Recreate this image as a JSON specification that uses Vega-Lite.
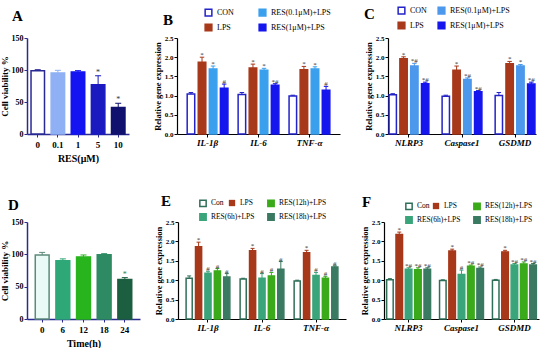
{
  "$schema": "https://vega.github.io/schema/vega-lite/v6.json",
  "background": "white",
  "padding": {"left": 0, "top": 6, "right": 2, "bottom": 0},
  "config": {
    "font": "Liberation Serif",
    "view": {"stroke": null},
    "axis": {"labelFont": "Liberation Serif", "titleFont": "Liberation Serif", "labelFontWeight": "bold", "titleFontWeight": "bold", "grid": false, "labelColor": "#000", "titleColor": "#000", "domainColor": "#000", "tickColor": "#000", "domainWidth": 1.2, "tickSize": 3, "labelPadding": 1, "titlePadding": 2},
    "legend": {"labelFont": "Liberation Serif", "labelFontSize": 8, "symbolType": "square", "symbolSize": 45, "symbolStrokeWidth": 1.5, "labelLimit": 200, "rowPadding": 3, "labelOffset": 4},
    "title": {"font": "Liberation Serif", "fontSize": 15, "fontWeight": "bold", "anchor": "start", "frame": "group", "color": "#000"}
  },
  "datasets": {
    "A": [
      {"dose": "0", "v": 99, "hi": 100.5, "s": ""},
      {"dose": "0.1", "v": 95.5, "hi": 99.5, "s": ""},
      {"dose": "1", "v": 97, "hi": 99, "s": ""},
      {"dose": "5", "v": 77, "hi": 91, "s": "*"},
      {"dose": "10", "v": 41.5, "hi": 48, "s": "*"}
    ],
    "D": [
      {"t": "0", "v": 99, "hi": 103, "s": ""},
      {"t": "6", "v": 90, "hi": 93, "s": ""},
      {"t": "12", "v": 96, "hi": 99, "s": ""},
      {"t": "18", "v": 99.5, "hi": 101, "s": ""},
      {"t": "24", "v": 61, "hi": 64, "s": "*"}
    ],
    "B": [
      {"gene": "IL-1β", "g": "CON", "v": 1.04, "hi": 1.08, "s": ""},
      {"gene": "IL-1β", "g": "LPS", "v": 1.87, "hi": 2.0, "s": "*"},
      {"gene": "IL-1β", "g": "RES(0.1μM)+LPS", "v": 1.69, "hi": 1.77, "s": "*"},
      {"gene": "IL-1β", "g": "RES(1μM)+LPS", "v": 1.19, "hi": 1.3, "s": "#"},
      {"gene": "IL-6", "g": "CON", "v": 1.03, "hi": 1.08, "s": ""},
      {"gene": "IL-6", "g": "LPS", "v": 1.72, "hi": 1.82, "s": "*"},
      {"gene": "IL-6", "g": "RES(0.1μM)+LPS", "v": 1.66, "hi": 1.71, "s": "*"},
      {"gene": "IL-6", "g": "RES(1μM)+LPS", "v": 1.27, "hi": 1.31, "s": "*#"},
      {"gene": "TNF-α", "g": "CON", "v": 0.99, "hi": 1.01, "s": ""},
      {"gene": "TNF-α", "g": "LPS", "v": 1.67, "hi": 1.76, "s": "*"},
      {"gene": "TNF-α", "g": "RES(0.1μM)+LPS", "v": 1.69, "hi": 1.75, "s": "*"},
      {"gene": "TNF-α", "g": "RES(1μM)+LPS", "v": 1.14, "hi": 1.24, "s": "#"}
    ],
    "C": [
      {"gene": "NLRP3", "g": "CON", "v": 1.02, "hi": 1.05, "s": ""},
      {"gene": "NLRP3", "g": "LPS", "v": 1.96, "hi": 2.01, "s": "*"},
      {"gene": "NLRP3", "g": "RES(0.1μM)+LPS", "v": 1.77, "hi": 1.84, "s": "*#"},
      {"gene": "NLRP3", "g": "RES(1μM)+LPS", "v": 1.31, "hi": 1.35, "s": "*#"},
      {"gene": "Caspase1", "g": "CON", "v": 0.98, "hi": 1.01, "s": ""},
      {"gene": "Caspase1", "g": "LPS", "v": 1.66, "hi": 1.77, "s": "*"},
      {"gene": "Caspase1", "g": "RES(0.1μM)+LPS", "v": 1.42, "hi": 1.46, "s": "*#"},
      {"gene": "Caspase1", "g": "RES(1μM)+LPS", "v": 1.1, "hi": 1.13, "s": "*#"},
      {"gene": "GSDMD", "g": "CON", "v": 1.0, "hi": 1.08, "s": ""},
      {"gene": "GSDMD", "g": "LPS", "v": 1.83, "hi": 1.89, "s": "*"},
      {"gene": "GSDMD", "g": "RES(0.1μM)+LPS", "v": 1.77, "hi": 1.81, "s": "*"},
      {"gene": "GSDMD", "g": "RES(1μM)+LPS", "v": 1.3, "hi": 1.35, "s": "*#"}
    ],
    "E": [
      {"gene": "IL-1β", "g": "Con", "v": 1.05, "hi": 1.11, "s": ""},
      {"gene": "IL-1β", "g": "LPS", "v": 1.86, "hi": 1.98, "s": "*"},
      {"gene": "IL-1β", "g": "RES(6h)+LPS", "v": 1.18, "hi": 1.23, "s": "#"},
      {"gene": "IL-1β", "g": "RES(12h)+LPS", "v": 1.24, "hi": 1.3, "s": "#"},
      {"gene": "IL-1β", "g": "RES(18h)+LPS", "v": 1.08, "hi": 1.17, "s": "#"},
      {"gene": "IL-6", "g": "Con", "v": 1.03, "hi": 1.05, "s": ""},
      {"gene": "IL-6", "g": "LPS", "v": 1.76, "hi": 1.82, "s": "*"},
      {"gene": "IL-6", "g": "RES(6h)+LPS", "v": 1.05, "hi": 1.17, "s": "#"},
      {"gene": "IL-6", "g": "RES(12h)+LPS", "v": 1.11, "hi": 1.2, "s": "#"},
      {"gene": "IL-6", "g": "RES(18h)+LPS", "v": 1.28, "hi": 1.48, "s": "#"},
      {"gene": "TNF-α", "g": "Con", "v": 0.98, "hi": 1.0, "s": ""},
      {"gene": "TNF-α", "g": "LPS", "v": 1.71, "hi": 1.77, "s": "*"},
      {"gene": "TNF-α", "g": "RES(6h)+LPS", "v": 1.12, "hi": 1.2, "s": "#"},
      {"gene": "TNF-α", "g": "RES(12h)+LPS", "v": 1.05, "hi": 1.1, "s": "#"},
      {"gene": "TNF-α", "g": "RES(18h)+LPS", "v": 1.34, "hi": 1.37, "s": "#"}
    ],
    "F": [
      {"gene": "NLRP3", "g": "Con", "v": 1.01, "hi": 1.04, "s": ""},
      {"gene": "NLRP3", "g": "LPS", "v": 2.18, "hi": 2.24, "s": "*"},
      {"gene": "NLRP3", "g": "RES(6h)+LPS", "v": 1.28, "hi": 1.32, "s": "*#"},
      {"gene": "NLRP3", "g": "RES(12h)+LPS", "v": 1.27, "hi": 1.32, "s": "*#"},
      {"gene": "NLRP3", "g": "RES(18h)+LPS", "v": 1.28, "hi": 1.32, "s": "*#"},
      {"gene": "Caspase1", "g": "Con", "v": 0.99, "hi": 1.01, "s": ""},
      {"gene": "Caspase1", "g": "LPS", "v": 1.75, "hi": 1.8, "s": "*"},
      {"gene": "Caspase1", "g": "RES(6h)+LPS", "v": 1.15, "hi": 1.26, "s": "#"},
      {"gene": "Caspase1", "g": "RES(12h)+LPS", "v": 1.36, "hi": 1.39, "s": "*#"},
      {"gene": "Caspase1", "g": "RES(18h)+LPS", "v": 1.3, "hi": 1.34, "s": "*#"},
      {"gene": "GSDMD", "g": "Con", "v": 1.0, "hi": 1.02, "s": ""},
      {"gene": "GSDMD", "g": "LPS", "v": 1.73, "hi": 1.77, "s": "*"},
      {"gene": "GSDMD", "g": "RES(6h)+LPS", "v": 1.39, "hi": 1.43, "s": "*#"},
      {"gene": "GSDMD", "g": "RES(12h)+LPS", "v": 1.42, "hi": 1.47, "s": "*#"},
      {"gene": "GSDMD", "g": "RES(18h)+LPS", "v": 1.39, "hi": 1.43, "s": "*#"}
    ]
  },
  "spacing": 31,
  "resolve": {"scale": {"x": "independent", "y": "independent", "fill": "independent", "stroke": "independent", "color": "independent", "xOffset": "independent"}, "legend": {"fill": "independent", "stroke": "independent", "color": "independent"}},
  "vconcat": [
    {
      "spacing": 24,
      "resolve": {"scale": {"x": "independent", "y": "independent", "fill": "independent", "stroke": "independent", "color": "independent", "xOffset": "independent"}, "legend": {"fill": "independent", "stroke": "independent", "color": "independent"}},
      "hconcat": [
        {
          "width": 102, "height": 96,
          "title": {"text": "A", "dx": -15, "offset": 10},
          "data": {"name": "A"},
          "encoding": {
            "x": {"field": "dose", "type": "nominal", "sort": ["0", "0.1", "1", "5", "10"], "title": "RES(μM)", "scale": {"paddingInner": 0.33, "paddingOuter": 0.2}, "axis": {"labelAngle": 0, "labelFontSize": 9, "titleFontSize": 10, "domainColor": "#2b2b8f", "tickColor": "#2b2b8f", "domainWidth": 1.5, "labelPadding": 3, "titlePadding": 4}},
            "y": {"field": "v", "type": "quantitative", "scale": {"domain": [0, 150]}, "axis": {"values": [0, 50, 100, 150], "title": "Cell viability %", "titleFontSize": 9, "labelFontSize": 8, "domainColor": "#2b2b8f", "tickColor": "#2b2b8f", "domainWidth": 1.5}}
          },
          "layer": [
            {"mark": {"type": "bar", "strokeWidth": 1.5},
             "encoding": {
               "fill": {"field": "dose", "type": "nominal", "scale": {"domain": ["0", "0.1", "1", "5", "10"], "range": ["#ffffff", "#8fb0f5", "#1414f2", "#1a1ac0", "#10106e"]}, "legend": null},
               "stroke": {"field": "dose", "type": "nominal", "scale": {"domain": ["0", "0.1", "1", "5", "10"], "range": ["#2a2a96", "#8fb0f5", "#1414f2", "#1a1ac0", "#10106e"]}, "legend": null}}},
            {"mark": {"type": "rule", "strokeWidth": 1},
             "encoding": {"y": {"field": "v", "type": "quantitative"}, "y2": {"field": "hi"}, "stroke": {"field": "dose", "type": "nominal", "legend": null}}},
            {"mark": {"type": "point", "shape": "M-1,0L1,0", "filled": false, "size": 36, "strokeWidth": 1, "opacity": 1},
             "encoding": {"y": {"field": "hi", "type": "quantitative"}, "stroke": {"field": "dose", "type": "nominal", "legend": null}}},
            {"mark": {"type": "text", "fontSize": 8, "baseline": "bottom", "dy": 1, "color": "#333"},
             "encoding": {"y": {"field": "hi", "type": "quantitative"}, "text": {"field": "s"}}}
          ]
        },
        {
          "width": 163, "height": 96,
          "title": {"text": "B", "dx": -14, "offset": -20},
          "data": {"name": "B"},
          "encoding": {
            "x": {"field": "gene", "type": "nominal", "sort": ["IL-1β", "IL-6", "TNF-α"], "title": null, "scale": {"paddingInner": 0.2, "paddingOuter": 0.2}, "axis": {"labelAngle": 0, "labelFontSize": 9, "labelFontStyle": "italic"}},
            "xOffset": {"field": "g", "type": "nominal", "sort": ["CON", "LPS", "RES(0.1μM)+LPS", "RES(1μM)+LPS"], "scale": {"paddingInner": 0.32}},
            "y": {"field": "v", "type": "quantitative", "scale": {"domain": [0, 2.5]}, "axis": {"values": [0, 0.5, 1, 1.5, 2, 2.5], "format": ".1f", "title": "Relative gene expression", "titleFontSize": 8.5, "labelFontSize": 7}}
          },
          "layer": [
            {"mark": {"type": "bar", "strokeWidth": 1.5},
             "encoding": {
               "fill": {"field": "g", "type": "nominal", "title": null, "scale": {"domain": ["CON", "RES(0.1μM)+LPS", "LPS", "RES(1μM)+LPS"], "range": ["#ffffff", "#3aa0ee", "#a8381a", "#1515ee"]}, "legend": {"orient": "none", "legendX": 27, "legendY": -30, "columns": 2, "columnPadding": 22, "direction": "horizontal", "rowPadding": 2}},
               "stroke": {"field": "g", "type": "nominal", "title": null, "scale": {"domain": ["CON", "RES(0.1μM)+LPS", "LPS", "RES(1μM)+LPS"], "range": ["#2323c8", "#3aa0ee", "#a8381a", "#1515ee"]}}}},
            {"mark": {"type": "rule", "strokeWidth": 1},
             "encoding": {"y": {"field": "v", "type": "quantitative"}, "y2": {"field": "hi"}, "stroke": {"field": "g", "type": "nominal", "title": null}}},
            {"mark": {"type": "point", "shape": "M-1,0L1,0", "filled": false, "size": 20, "strokeWidth": 1, "opacity": 1},
             "encoding": {"y": {"field": "hi", "type": "quantitative"}, "stroke": {"field": "g", "type": "nominal", "title": null}}},
            {"mark": {"type": "text", "fontSize": 7, "baseline": "bottom", "dy": 1, "color": "#333"},
             "encoding": {"y": {"field": "hi", "type": "quantitative"}, "text": {"field": "s"}}}
          ]
        },
        {
          "width": 148, "height": 96,
          "title": {"text": "C", "dx": -24, "offset": -16},
          "data": {"name": "C"},
          "encoding": {
            "x": {"field": "gene", "type": "nominal", "sort": ["NLRP3", "Caspase1", "GSDMD"], "title": null, "scale": {"paddingInner": 0.25, "paddingOuter": 0.02}, "axis": {"labelAngle": 0, "labelFontSize": 9, "labelFontStyle": "italic"}},
            "xOffset": {"field": "g", "type": "nominal", "sort": ["CON", "LPS", "RES(0.1μM)+LPS", "RES(1μM)+LPS"], "scale": {"paddingInner": 0.32}},
            "y": {"field": "v", "type": "quantitative", "scale": {"domain": [0, 2.5]}, "axis": {"values": [0, 0.5, 1, 1.5, 2, 2.5], "format": ".1f", "title": "Relative gene expression", "titleFontSize": 8.5, "labelFontSize": 7}}
          },
          "layer": [
            {"mark": {"type": "bar", "strokeWidth": 1.5},
             "encoding": {
               "fill": {"field": "g", "type": "nominal", "title": null, "scale": {"domain": ["CON", "RES(0.1μM)+LPS", "LPS", "RES(1μM)+LPS"], "range": ["#ffffff", "#4b98ec", "#a8381a", "#1515ee"]}, "legend": {"orient": "none", "legendX": 9, "legendY": -32, "columns": 2, "columnPadding": 8, "direction": "horizontal", "rowPadding": 2}},
               "stroke": {"field": "g", "type": "nominal", "title": null, "scale": {"domain": ["CON", "RES(0.1μM)+LPS", "LPS", "RES(1μM)+LPS"], "range": ["#2323c8", "#4b98ec", "#a8381a", "#1515ee"]}}}},
            {"mark": {"type": "rule", "strokeWidth": 1},
             "encoding": {"y": {"field": "v", "type": "quantitative"}, "y2": {"field": "hi"}, "stroke": {"field": "g", "type": "nominal", "title": null}}},
            {"mark": {"type": "point", "shape": "M-1,0L1,0", "filled": false, "size": 20, "strokeWidth": 1, "opacity": 1},
             "encoding": {"y": {"field": "hi", "type": "quantitative"}, "stroke": {"field": "g", "type": "nominal", "title": null}}},
            {"mark": {"type": "text", "fontSize": 7, "baseline": "bottom", "dy": 1, "color": "#333"},
             "encoding": {"y": {"field": "hi", "type": "quantitative"}, "text": {"field": "s"}}}
          ]
        }
      ]
    },
    {
      "spacing": 14,
      "resolve": {"scale": {"x": "independent", "y": "independent", "fill": "independent", "stroke": "independent", "color": "independent", "xOffset": "independent"}, "legend": {"fill": "independent", "stroke": "independent", "color": "independent"}},
      "hconcat": [
        {
          "width": 113, "height": 97,
          "title": {"text": "D", "dx": -19, "offset": 5},
          "data": {"name": "D"},
          "encoding": {
            "x": {"field": "t", "type": "nominal", "sort": ["0", "6", "12", "18", "24"], "title": "Time(h)", "scale": {"paddingInner": 0.33, "paddingOuter": 0.4}, "axis": {"labelAngle": 0, "labelFontSize": 9, "titleFontSize": 10, "domainColor": "#2b2b8f", "tickColor": "#2b2b8f", "domainWidth": 1.5, "labelPadding": 3, "titlePadding": 4}},
            "y": {"field": "v", "type": "quantitative", "scale": {"domain": [0, 150]}, "axis": {"values": [0, 50, 100, 150], "title": "Cell viability %", "titleFontSize": 9, "labelFontSize": 8, "domainColor": "#2b2b8f", "tickColor": "#2b2b8f", "domainWidth": 1.5}}
          },
          "layer": [
            {"mark": {"type": "bar", "strokeWidth": 1.5},
             "encoding": {
               "fill": {"field": "t", "type": "nominal", "scale": {"domain": ["0", "6", "12", "18", "24"], "range": ["#eafaf6", "#2fa878", "#28b41c", "#2e8a62", "#1b5e40"]}, "legend": null},
               "stroke": {"field": "t", "type": "nominal", "scale": {"domain": ["0", "6", "12", "18", "24"], "range": ["#5d8a7c", "#2fa878", "#28b41c", "#2e8a62", "#1b5e40"]}, "legend": null}}},
            {"mark": {"type": "rule", "strokeWidth": 1},
             "encoding": {"y": {"field": "v", "type": "quantitative"}, "y2": {"field": "hi"}, "stroke": {"field": "t", "type": "nominal", "legend": null}}},
            {"mark": {"type": "point", "shape": "M-1,0L1,0", "filled": false, "size": 36, "strokeWidth": 1, "opacity": 1},
             "encoding": {"y": {"field": "hi", "type": "quantitative"}, "stroke": {"field": "t", "type": "nominal", "legend": null}}},
            {"mark": {"type": "text", "fontSize": 8, "baseline": "bottom", "dy": 1, "color": "#1b8a60"},
             "encoding": {"y": {"field": "hi", "type": "quantitative"}, "text": {"field": "s"}}}
          ]
        },
        {
          "width": 168, "height": 97,
          "title": {"text": "E", "dx": -17, "offset": -10},
          "data": {"name": "E"},
          "encoding": {
            "x": {"field": "gene", "type": "nominal", "sort": ["IL-1β", "IL-6", "TNF-α"], "title": null, "scale": {"paddingInner": 0.19, "paddingOuter": 0.15}, "axis": {"labelAngle": 0, "labelFontSize": 9, "labelFontStyle": "italic"}},
            "xOffset": {"field": "g", "type": "nominal", "sort": ["Con", "LPS", "RES(6h)+LPS", "RES(12h)+LPS", "RES(18h)+LPS"], "scale": {"paddingInner": 0.35}},
            "y": {"field": "v", "type": "quantitative", "scale": {"domain": [0, 2.5]}, "axis": {"values": [0, 0.5, 1, 1.5, 2, 2.5], "format": ".1f", "title": "Relative gene expression", "titleFontSize": 8.5, "labelFontSize": 7}}
          },
          "layer": [
            {"mark": {"type": "bar", "strokeWidth": 1.5},
             "encoding": {
               "fill": {"field": "g", "type": "nominal", "title": null, "scale": {"domain": ["Con", "LPS", "RES(6h)+LPS", "RES(12h)+LPS", "RES(18h)+LPS"], "range": ["#ffffff", "#a8381a", "#3aa57a", "#3aaa1a", "#3a7a62"]}, "legend": {"orient": "none", "legendX": 21, "legendY": -23, "columns": 2, "columnPadding": 9, "direction": "horizontal", "rowPadding": 0, "labelFontSize": 7.5, "symbolSize": 40, "values": ["Con", "RES(12h)+LPS", "RES(6h)+LPS", "RES(18h)+LPS"]}},
               "stroke": {"field": "g", "type": "nominal", "title": null, "scale": {"domain": ["Con", "LPS", "RES(6h)+LPS", "RES(12h)+LPS", "RES(18h)+LPS"], "range": ["#2f6f58", "#a8381a", "#3aa57a", "#3aaa1a", "#3a7a62"]}, "legend": {"orient": "none", "legendX": 21, "legendY": -23, "columns": 2, "columnPadding": 9, "direction": "horizontal", "rowPadding": 0, "labelFontSize": 7.5, "symbolSize": 40, "values": ["Con", "RES(12h)+LPS", "RES(6h)+LPS", "RES(18h)+LPS"]}}}},
            {"transform": [{"filter": "datum.g === 'LPS'"}],
             "mark": {"type": "bar"},
             "encoding": {"y": {"field": "v", "type": "quantitative"}, "color": {"field": "g", "type": "nominal", "title": null, "scale": {"domain": ["LPS"], "range": ["#a8381a"]}, "legend": {"orient": "none", "legendX": 50, "legendY": -23, "labelFontSize": 7.5, "symbolSize": 40}}}},
            {"mark": {"type": "rule", "strokeWidth": 1},
             "encoding": {"y": {"field": "v", "type": "quantitative"}, "y2": {"field": "hi"}, "stroke": {"field": "g", "type": "nominal", "title": null}}},
            {"mark": {"type": "point", "shape": "M-1,0L1,0", "filled": false, "size": 16, "strokeWidth": 1, "opacity": 1},
             "encoding": {"y": {"field": "hi", "type": "quantitative"}, "stroke": {"field": "g", "type": "nominal", "title": null}}},
            {"mark": {"type": "text", "fontSize": 7, "baseline": "bottom", "dy": 1, "color": "#333"},
             "encoding": {"y": {"field": "hi", "type": "quantitative"}, "text": {"field": "s"}}}
          ]
        },
        {
          "width": 155, "height": 97,
          "title": {"text": "F", "dx": -22, "offset": -8},
          "data": {"name": "F"},
          "encoding": {
            "x": {"field": "gene", "type": "nominal", "sort": ["NLRP3", "Caspase1", "GSDMD"], "title": null, "scale": {"paddingInner": 0.17, "paddingOuter": 0.05}, "axis": {"labelAngle": 0, "labelFontSize": 9, "labelFontStyle": "italic"}},
            "xOffset": {"field": "g", "type": "nominal", "sort": ["Con", "LPS", "RES(6h)+LPS", "RES(12h)+LPS", "RES(18h)+LPS"], "scale": {"paddingInner": 0.3}},
            "y": {"field": "v", "type": "quantitative", "scale": {"domain": [0, 2.5]}, "axis": {"values": [0, 0.5, 1, 1.5, 2, 2.5], "format": ".1f", "title": "Relative gene expression", "titleFontSize": 8.5, "labelFontSize": 7}}
          },
          "layer": [
            {"mark": {"type": "bar", "strokeWidth": 1.5},
             "encoding": {
               "fill": {"field": "g", "type": "nominal", "title": null, "scale": {"domain": ["Con", "LPS", "RES(6h)+LPS", "RES(12h)+LPS", "RES(18h)+LPS"], "range": ["#ffffff", "#a8381a", "#3aa57a", "#3aaa1a", "#3a7a62"]}, "legend": {"orient": "none", "legendX": 21, "legendY": -20, "columns": 2, "columnPadding": 9, "direction": "horizontal", "rowPadding": 0, "labelFontSize": 7.5, "symbolSize": 40, "values": ["Con", "RES(12h)+LPS", "RES(6h)+LPS", "RES(18h)+LPS"]}},
               "stroke": {"field": "g", "type": "nominal", "title": null, "scale": {"domain": ["Con", "LPS", "RES(6h)+LPS", "RES(12h)+LPS", "RES(18h)+LPS"], "range": ["#2f6f58", "#a8381a", "#3aa57a", "#3aaa1a", "#3a7a62"]}, "legend": {"orient": "none", "legendX": 21, "legendY": -20, "columns": 2, "columnPadding": 9, "direction": "horizontal", "rowPadding": 0, "labelFontSize": 7.5, "symbolSize": 40, "values": ["Con", "RES(12h)+LPS", "RES(6h)+LPS", "RES(18h)+LPS"]}}}},
            {"transform": [{"filter": "datum.g === 'LPS'"}],
             "mark": {"type": "bar"},
             "encoding": {"y": {"field": "v", "type": "quantitative"}, "color": {"field": "g", "type": "nominal", "title": null, "scale": {"domain": ["LPS"], "range": ["#a8381a"]}, "legend": {"orient": "none", "legendX": 48, "legendY": -20, "labelFontSize": 7.5, "symbolSize": 40}}}},
            {"mark": {"type": "rule", "strokeWidth": 1},
             "encoding": {"y": {"field": "v", "type": "quantitative"}, "y2": {"field": "hi"}, "stroke": {"field": "g", "type": "nominal", "title": null}}},
            {"mark": {"type": "point", "shape": "M-1,0L1,0", "filled": false, "size": 16, "strokeWidth": 1, "opacity": 1},
             "encoding": {"y": {"field": "hi", "type": "quantitative"}, "stroke": {"field": "g", "type": "nominal", "title": null}}},
            {"mark": {"type": "text", "fontSize": 7, "baseline": "bottom", "dy": 1, "color": "#333"},
             "encoding": {"y": {"field": "hi", "type": "quantitative"}, "text": {"field": "s"}}}
          ]
        }
      ]
    }
  ]
}
